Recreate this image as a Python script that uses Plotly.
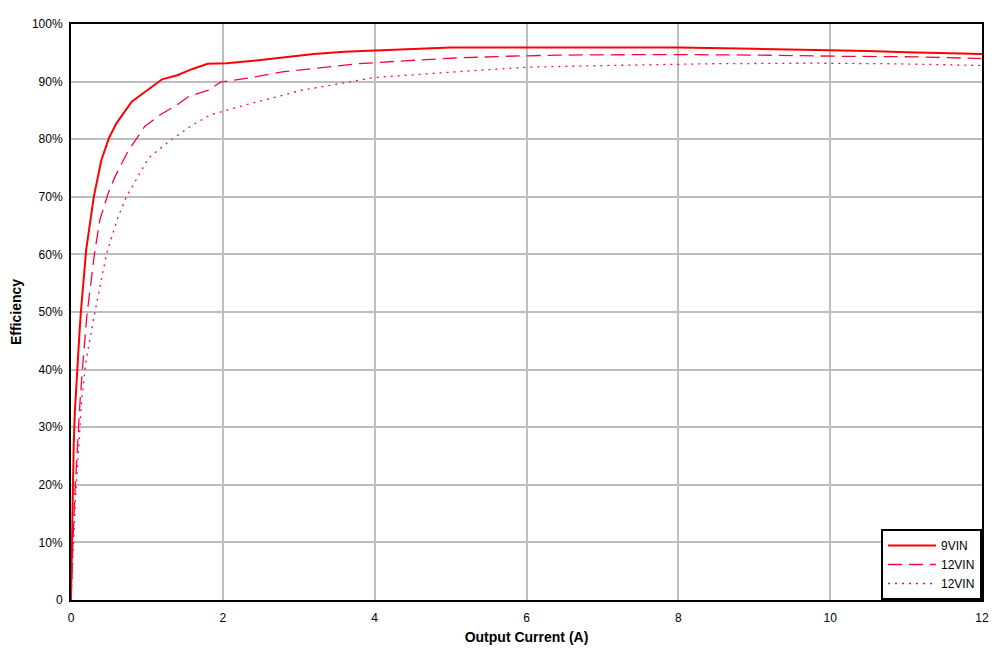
import plotly.graph_objects as go

# Data (Output current in A, efficiency in %)
x_9vin = [0, 0.01, 0.02, 0.035, 0.05, 0.08, 0.11, 0.13, 0.2, 0.3, 0.4, 0.5, 0.6, 0.8, 1.0, 1.2, 1.4,
          1.6, 1.8, 2.05, 2.4, 2.8, 3.2, 3.6, 4.0, 4.5, 5.0, 6.0, 7.0, 8.0, 9.0, 10.0, 10.5, 11.0, 11.5, 12.0]
y_9vin = [0, 10, 19, 26.6, 32.5, 40, 46, 50, 60.8, 70, 76.4, 80.2, 82.8, 86.5, 88.5, 90.4, 91.1,
          92.2, 93.1, 93.2, 93.6, 94.2, 94.8, 95.2, 95.4, 95.6, 95.9, 95.9, 95.9, 95.9, 95.7, 95.5, 95.3, 95.1, 94.9, 94.8]

x_12vin_a = [0, 0.01, 0.03, 0.053, 0.088, 0.12, 0.16, 0.21, 0.31, 0.38, 0.49, 0.58, 0.75, 0.97, 1.17, 1.39,
             1.55, 1.81, 1.97, 2.37, 2.78, 3.32, 3.79, 4.39, 5.07, 5.74, 6.42, 7.76, 8.43, 9.1, 10.1, 11.1, 12.0]
y_12vin_a = [0, 5, 11.6, 19, 27.8, 34.7, 41.7, 49.5, 60.2, 66, 70.6, 73.5, 77.9, 82.2, 84.2, 85.9,
             87.4, 88.5, 89.9, 90.7, 91.7, 92.5, 93.1, 93.6, 94.1, 94.4, 94.6, 94.7, 94.7, 94.6, 94.4, 94.3, 94.0]

x_12vin_b = [0, 0.015, 0.035, 0.057, 0.1, 0.14, 0.2, 0.3, 0.47, 0.62, 0.73, 0.84, 1.02, 1.26, 1.57, 1.83,
             2.37, 3.04, 3.99, 5.07, 6.0, 7.09, 8.43, 9.78, 10.8, 12.0]
y_12vin_b = [0, 4, 10.4, 17.4, 26, 34.7, 41.7, 49, 60.2, 66.5, 70, 72.6, 76.7, 79.3, 82.2, 84.2,
             86.2, 88.5, 90.7, 91.7, 92.5, 92.8, 93.1, 93.2, 93.1, 92.8]

series_names = ["9VIN", "12VIN", "12VIN"]
x_ticks = [0, 2, 4, 6, 8, 10, 12]
y_ticks = [0, 10, 20, 30, 40, 50, 60, 70, 80, 90, 100]
y_tick_labels = ["0", "10%", "20%", "30%", "40%", "50%", "60%", "70%", "80%", "90%", "100%"]

fig = go.Figure()
fig.add_trace(go.Scatter(x=x_9vin, y=y_9vin, mode="lines", name=series_names[0],
                         line=dict(color="#FF0000", width=2)))
fig.add_trace(go.Scatter(x=x_12vin_a, y=y_12vin_a, mode="lines", name=series_names[1],
                         line=dict(color="#FF0040", width=1.3, dash="14px,7px")))
fig.add_trace(go.Scatter(x=x_12vin_b, y=y_12vin_b, mode="lines", name=series_names[2],
                         line=dict(color="#FF0080", width=1.3, dash="2px,5px")))

font_family = "Liberation Sans, Arial, sans-serif"
# The page body has an 8px default margin, so the figure is sized/offset to compensate.
fig.update_layout(
    width=998, height=644,
    margin=dict(l=63, r=24, t=16, b=52),
    paper_bgcolor="white", plot_bgcolor="white",
    font=dict(family=font_family, size=12, color="black"),
    showlegend=True,
    legend=dict(x=1, y=0, xanchor="right", yanchor="bottom",
                bgcolor="white", bordercolor="black", borderwidth=2,
                font=dict(size=12, color="black"),
                tracegroupgap=0, itemwidth=48),
    xaxis=dict(range=[0, 12], tickvals=x_ticks, showgrid=True, gridcolor="#BEBEBE", gridwidth=2,
               showline=True, linecolor="black", linewidth=2, mirror=True, zeroline=False,
               ticks="", ticklabelstandoff=6, automargin=False,
               title=dict(text="<b>Output Current (A)</b>", font=dict(size=14), standoff=8)),
    yaxis=dict(range=[0, 100], tickvals=y_ticks, ticktext=y_tick_labels, showgrid=True,
               gridcolor="#BEBEBE", gridwidth=2,
               showline=True, linecolor="black", linewidth=2, mirror=True, zeroline=False,
               ticks="", ticklabelstandoff=4, automargin=False,
               title=dict(text="<b>Efficiency</b>", font=dict(size=14), standoff=10)),
)

fig.write_html("out.html")
